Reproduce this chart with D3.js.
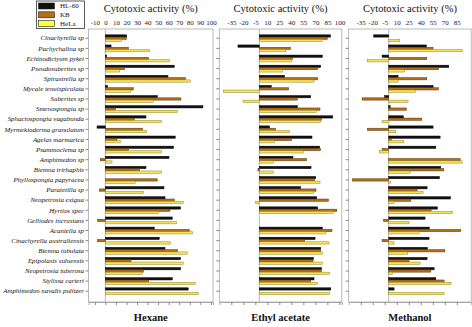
<!DOCTYPE html>
<html>
<head>
<meta charset="utf-8">
<script src="https://cdn.jsdelivr.net/npm/d3@7/dist/d3.min.js"></script>
<style>
  body { margin: 0; background: #fff; }
  svg text { font-family: "Liberation Serif", "Times New Roman", serif; }
</style>
</head>
<body>
<div id="chart"></div>
<script>
// Sponge extracts and their cytotoxic activity (%) on three cell lines
var species = [
  "Cinachyrella sp", "Pachychalina sp", "Echinodictyum pykei", "Pseudosuberites sp",
  "Spirastrella sp", "Mycale tenuispiculata", "Suberites sp", "Smenospongia sp",
  "Sphaciospongia vagabunda", "Myrmekioderma granulatum", "Agelas marmarica", "Psammoclema sp",
  "Amphimedon sp", "Biemna trirhaphis", "Phyllospongia papyracea", "Paratetilla sp",
  "Neopetrosia exigua", "Hyrtios spec", "Gelliodes incrustans", "Acantella sp",
  "Cinachyrella australiensis", "Biemna tubulata", "Epipolasis suluensis", "Neopetrosia tuberosa",
  "Stylissa carteri", "Amphimedon navalis pulitzer"
];
var cellLines = ["HL-60", "KB", "HeLa"];
var solvents = ["Hexane", "Ethyl acetate", "Methanol"];

var hexaneHL60 = [20.2, 5.4, 1.3, 65.3, 59.3, 2.2, 49.2, 92.4, 38.5, -7.9, 66.2, 64.7, 60.3, 38.5, 0, 55.5, 56.5, 71.3, 63.4, 46.4, 51.1, 56.5, 71.3, 71.3, 63.4, 78.5];
var hexaneKB   = [20, 22, 41, 18.3, 75.7, 26.5, 71.6, 9.5, 27.4, 35.3, 11, 22, -4.7, 32.5, 49.2, -5.7, 65.3, 61.2, -7.3, 79.5, -7.3, 68.5, 24.3, 36, 41, 0];
var hexaneHeLa = [15.5, 41.6, 60.6, 13.6, 80.4, 24.3, 45.7, 68.5, 53.3, 39.1, 14.2, 53.3, 6.3, 53.3, 28.4, 36.3, 73.8, 50.5, 67.5, 82.6, 61.5, 77.6, 73.8, 35, 85.5, 88.3];

var ethylHL60 = [89, -26.7, 78.8, 76.7, 31.7, 15, 64.2, 47.5, 91.7, 12.9, 65.8, 75.4, 42, 64.6, 70.4, 51.7, 71.7, 72.9, 0, 78.8, 69.6, 76.7, 67.5, 77.5, 68.3, 89.2];
var ethylKB   = [85, 39, 41.7, 72.5, 72.9, 36.7, 47.5, 75.8, 77.5, 20.4, 40.4, 76.7, 59.2, -1.7, 69.2, 70.8, 86.3, 96.7, 0, 90.8, 56.7, 76.7, 67.1, 77.5, 64.2, 0];
var ethylHeLa = [78.8, 33, 40.4, 28.8, 68.3, -45, -20.4, 71.7, 76.7, 37.5, 18.8, 55, 17.5, 17.5, 75.8, 67.5, -4.6, 92.5, 0, 82.9, 87.1, 78.8, 78.8, 87.9, 72.5, 87.9];

var methanolHL60 = [-18.8, 47.1, -8.3, 75, 11.7, 55.4, -5, 1.7, 18.3, 55.4, 64.2, 58.8, 0, 65, 63.3, 47.9, 77.1, 60.8, 45.4, 50.8, 50.4, 48.3, 47.9, 56.7, 58.8, 6.7];
var methanolKB   = [0, 55.4, 47.5, 62.1, 47.5, 62.1, -33.3, 22.1, 41.3, -26.7, 3.3, -8.3, 89.2, 68.8, -45.4, 35.4, 27.5, 52.9, -6.3, 90, -8.3, 70, 25.4, 52.5, 69.2, 0];
var methanolHeLa = [13.8, 91.7, -26.7, 20, 11.7, 33.3, 24.2, 0, -8.3, 8.8, 18.8, -11.3, 91.7, 26.7, 2.5, 42.9, 6.7, 79.6, 25.4, 37.9, 6.7, 23.8, 39.2, 5, 77.9, 69.2];

var hexaneTicks = [-10, 0, 10, 20, 30, 40, 50, 60, 70, 80, 90, 100];
var ethylTicks = [-35, -20, -5, 10, 25, 40, 55, 70, 85, 100];
var methanolTicks = [-35, -20, -5, 10, 25, 40, 55, 70, 85];

// Step 1: chart size and panel layout
//= ================================
var svgWidth = 472;
var svgHeight = 327;
var plotTop = 29;
var plotBottom = 302;

var panels = [
  { name: solvents[0], left: 88.5, right: 213, domain: [-16, 102], ticks: hexaneTicks,
    series: [hexaneHL60, hexaneKB, hexaneHeLa] },
  { name: solvents[1], left: 219.3, right: 341.8, domain: [-50, 103], ticks: ethylTicks,
    series: [ethylHL60, ethylKB, ethylHeLa] },
  { name: solvents[2], left: 348.7, right: 471.2, domain: [-50, 103], ticks: methanolTicks,
    series: [methanolHL60, methanolKB, methanolHeLa] }
];

var fills = ["#111111", "#b56d18", "#f4e45a"];
var strokes = ["#000000", "#5e3508", "#938427"];

var svg = d3.select("#chart")
  .append("svg")
  .attr("width", svgWidth)
  .attr("height", svgHeight);

// Step 2: shared row scales
//= ================================
var yScale = d3.scaleBand()
  .domain(species)
  .range([33.2, 296.3])
  .paddingInner(0.32)
  .paddingOuter(0.16);

var ySeries = d3.scaleBand()
  .domain(d3.range(cellLines.length))
  .range([0, yScale.bandwidth()]);

// Step 3: draw each panel
//= ================================
panels.forEach(function(p, pi) {
  var xScale = d3.scaleLinear()
    .domain(p.domain)
    .range([p.left, p.right]);

  var g = svg.append("g");

  // frame
  g.append("rect")
    .attr("x", p.left)
    .attr("y", plotTop)
    .attr("width", p.right - p.left)
    .attr("height", plotBottom - plotTop)
    .attr("fill", "none")
    .attr("stroke", "#a8a8a8")
    .attr("stroke-width", 0.8);

  // zero line
  g.append("line")
    .attr("x1", xScale(0)).attr("x2", xScale(0))
    .attr("y1", plotTop).attr("y2", plotBottom)
    .attr("stroke", "#a8a8a8")
    .attr("stroke-width", 0.8);

  // top axis with the labels (plain hyphen for negatives)
  var topAxis = g.append("g")
    .attr("transform", `translate(0, ${plotTop - 2})`)
    .call(d3.axisTop(xScale).tickValues(p.ticks).tickSize(0).tickPadding(2).tickFormat(d => String(d)));
  topAxis.select(".domain").remove();
  topAxis.selectAll("text")
    .attr("font-size", "7px")
    .attr("fill", "#222");

  // bottom axis, ticks only
  var bottomAxis = g.append("g")
    .attr("transform", `translate(0, ${plotBottom})`)
    .call(d3.axisBottom(xScale).tickValues(p.ticks).tickSize(3).tickFormat(""));
  bottomAxis.select(".domain").attr("stroke", "#a8a8a8");
  bottomAxis.selectAll("line").attr("stroke", "#888");

  // left axis: row ticks, species names on the first panel only
  var leftAxis = g.append("g")
    .attr("transform", `translate(${p.left}, 0)`)
    .call(d3.axisLeft(yScale).tickSize(3).tickPadding(1.5).tickFormat(pi === 0 ? null : ""));
  leftAxis.select(".domain").remove();
  leftAxis.selectAll("line").attr("stroke", "#888");
  leftAxis.selectAll("text")
    .attr("font-size", "6.9px")
    .attr("font-style", "italic")
    .attr("fill", "#111");

  // bars
  p.series.forEach(function(values, si) {
    g.append("g")
      .selectAll("rect")
      .data(values)
      .enter()
      .append("rect")
      .attr("x", d => xScale(Math.min(0, d)))
      .attr("y", (d, i) => yScale(species[i]) + ySeries(si))
      .attr("width", d => Math.abs(xScale(d) - xScale(0)))
      .attr("height", ySeries.bandwidth())
      .attr("fill", fills[si])
      .attr("stroke", strokes[si])
      .attr("stroke-width", 0.5);
  });

  // panel title and solvent label
  svg.append("text")
    .attr("x", (p.left + p.right) / 2)
    .attr("y", 12)
    .attr("text-anchor", "middle")
    .attr("font-size", "10.5px")
    .attr("fill", "#111")
    .text("Cytotoxic activity  (%)");

  svg.append("text")
    .attr("x", (p.left + p.right) / 2)
    .attr("y", 321)
    .attr("text-anchor", "middle")
    .attr("font-size", "10.5px")
    .attr("font-weight", "bold")
    .attr("fill", "#111")
    .text(p.name);
});

// Step 4: legend
//= ================================
var legend = svg.append("g");
legend.append("rect")
  .attr("x", 36.5).attr("y", 1)
  .attr("width", 48).attr("height", 27.5)
  .attr("fill", "#fff")
  .attr("stroke", "#333")
  .attr("stroke-width", 0.8);

cellLines.forEach(function(name, i) {
  legend.append("rect")
    .attr("x", 38.5)
    .attr("y", 3 + i * 8.8)
    .attr("width", 16)
    .attr("height", 6)
    .attr("fill", i === 2 ? "#ffff3a" : fills[i])
    .attr("stroke", "#222")
    .attr("stroke-width", 0.6);
  legend.append("text")
    .attr("x", 60)
    .attr("y", 8.4 + i * 8.8)
    .attr("font-size", "7px")
    .attr("fill", "#111")
    .text(name);
});
</script>
</body>
</html>
